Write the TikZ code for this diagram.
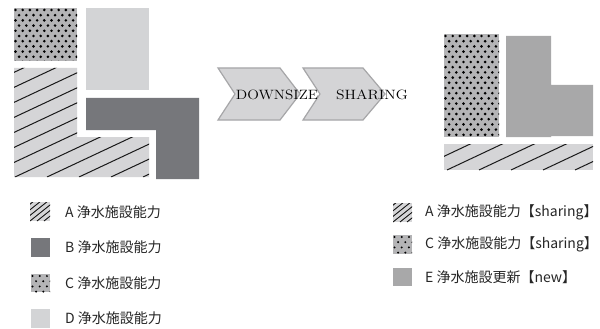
\documentclass[tikz,border=0pt]{standalone}
\usepackage{fontspec}
\usepackage{graphicx}
\newfontfamily\jpfont{Noto Sans CJK JP}
\definecolor{hatchbg}{HTML}{D5D5D7}
\definecolor{lightD}{HTML}{D3D4D6}
\definecolor{darkB}{HTML}{76777B}
\definecolor{dotbg}{HTML}{B4B4B6}
\definecolor{newE}{HTML}{A8A8A9}
\definecolor{chevfill}{HTML}{D4D4D6}
\definecolor{chevline}{HTML}{A6A6A8}
\definecolor{legtext}{HTML}{262626}
\tikzset{
  hatchline/.style={draw=black!90, line width=1pt},
  dotmark/.style={fill=black},
  chevron/.style={fill=chevfill, draw=chevline, line width=1.2pt, line join=miter},
  arrowtext/.style={font=\fontsize{13.5}{15}\selectfont, inner sep=0pt},
  legendtext/.style={font=\jpfont\fontsize{14}{16}\selectfont, text=legtext, anchor=west, inner sep=0pt},
}
% dots: #1 x0, #2 y0, #3 x1, #4 y1, #5 radius
\newcommand\mydotarea[5]{%
  \begin{scope}
    \clip (#1,#2) rectangle (#3,#4);
    \fill[dotbg] (#1,#2) rectangle (#3,#4);
    \foreach \r in {0,...,30}{
      \pgfmathsetmacro\yy{#2+2+\r*5.2}
      \pgfmathsetmacro\off{mod(\r,2)*3.6}
      \foreach \c in {0,...,20}{
        \pgfmathsetmacro\xx{#1+1.5+\off+\c*7.2}
        \fill[dotmark] (\xx,\yy) circle (#5);
      }
    }
  \end{scope}}
\begin{document}
\begin{tikzpicture}[x=1pt,y=-1pt]
\useasboundingbox (0,0) rectangle (600,329);
\fill[white] (0,0) rectangle (600,329);

% ===== Left group =====
\mydotarea{14}{8}{77}{61}{1.45pt}
\fill[lightD] (86,8) rectangle (149,90);
\begin{scope}
  \clip (14,68) -- (77,68) -- (77,137) -- (149,137) -- (149,177) -- (14,177) -- cycle;
  \fill[hatchbg] (0,0) rectangle (200,200);
  \foreach \k in {-9,...,5}{
    \draw[hatchline] (15+32*\k,177) -- ++(260,-122);
  }
\end{scope}
\fill[darkB] (86,98) -- (199,98) -- (199,179) -- (156,179) -- (156,130) -- (86,130) -- cycle;

% ===== Chevrons =====
\draw[chevron] (218,68) -- (280,68) -- (300,94) -- (280,120) -- (218,120) -- (235,94) -- cycle;
\draw[chevron] (303,68) -- (363,68) -- (385,94) -- (363,120) -- (303,120) -- (320,94) -- cycle;
\node[arrowtext] (down) at (277,95) {\scalebox{1.13}[1]{DOWNSIZE}};
\node[arrowtext] (share) at (372,95) {\scalebox{1.16}[1]{SHARING}};

% ===== Right group =====
\mydotarea{444}{34}{499}{137}{1.45pt}
\fill[newE] (506,36) -- (551,36) -- (551,85) -- (593,85) -- (593,136) -- (551,136) -- (551,137) -- (506,137) -- cycle;
\begin{scope}
  \clip (444,144) rectangle (593,170);
  \fill[hatchbg] (444,144) rectangle (593,170);
  \foreach \k in {-2,...,5}{
    \draw[hatchline] (447+32*\k,170) -- ++(120,-56.5);
  }
\end{scope}

% ===== Left legend =====
\begin{scope}
  \clip (30,202) rectangle (50,221);
  \fill[hatchbg] (30,202) rectangle (50,221);
  \foreach \k in {-5,...,5}{
    \draw[hatchline, line width=0.9pt] (30+7*\k,221) -- ++(30,-24);
  }
\end{scope}
\fill[darkB] (31,238) rectangle (50,257);
\mydotarea{31}{274}{50}{292}{1.1pt}
\fill[lightD] (31,309) rectangle (50,328);
\node[legendtext] (la) at (65,212) {A 浄水施設能力};
\node[legendtext] (lb) at (65,247.5) {B 浄水施設能力};
\node[legendtext] (lc) at (65,283) {C 浄水施設能力};
\node[legendtext] (ld) at (65,318.5) {D 浄水施設能力};

% ===== Right legend =====
\begin{scope}
  \clip (393,203) rectangle (412,222);
  \fill[hatchbg] (393,203) rectangle (412,222);
  \foreach \k in {-5,...,5}{
    \draw[hatchline, line width=0.9pt] (393+7*\k,222) -- ++(30,-24);
  }
\end{scope}
\mydotarea{393}{235}{412}{254}{1.1pt}
\fill[newE] (393,268) rectangle (412,286);
\node[legendtext] (ra) at (425,212) {A 浄水施設能力【sharing】};
\node[legendtext] (rc) at (425,244.5) {C 浄水施設能力【sharing】};
\node[legendtext] (re) at (425,277) {E 浄水施設更新【new】};
\end{tikzpicture}
\end{document}
